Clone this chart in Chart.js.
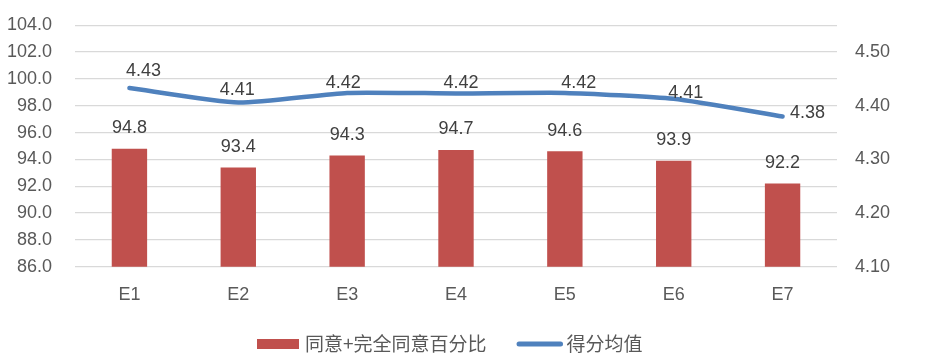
<!DOCTYPE html>
<html>
<head>
<meta charset="utf-8">
<script src="https://cdn.jsdelivr.net/npm/chart.js@4.4.1/dist/chart.umd.min.js"></script>
<style>
html,body{margin:0;padding:0;background:#fff;}
#wrap{width:942px;height:357px;}
</style>
</head>
<body>
<div id="wrap"><canvas id="c" width="942" height="357"></canvas></div>
<script>
const categories = ['E1', 'E2', 'E3', 'E4', 'E5', 'E6', 'E7'];
const pctValues = [94.8, 93.4, 94.3, 94.7, 94.6, 93.9, 92.2];
const meanValues = [4.433, 4.406, 4.424, 4.423, 4.424, 4.413, 4.380];
const seriesNames = ['同意+完全同意百分比', '得分均值'];
const leftTickValues = [86, 88, 90, 92, 94, 96, 98, 100, 102, 104];
const rightTickValues = [4.1, 4.2, 4.3, 4.4, 4.5];

const NUM_FONT = '"Liberation Sans", Arial, sans-serif';
const CJK_FONT = '"Noto Sans CJK SC", "Noto Sans", sans-serif';
const BAR_COLOR = '#c0504d';
const LINE_COLOR = '#4f81bd';

// label offsets for the line labels (dx, dy of text center relative to point)
const lineLabelOffsets = [[14,-17],[-1,-13],[-4,-10],[5,-10],[14,-10],[12,-6],[25,-3]];

const labelPlugin = {
  id: 'valueLabels',
  afterDatasetsDraw(chart) {
    const ctx = chart.ctx;
    ctx.save();
    ctx.font = '18px ' + NUM_FONT;
    ctx.fillStyle = '#404040';
    ctx.textAlign = 'center';
    ctx.textBaseline = 'middle';
    const barMeta = chart.getDatasetMeta(0);
    barMeta.data.forEach((el, i) => {
      ctx.fillText(chart.data.datasets[0].data[i].toFixed(1), el.x, el.y - 20.5);
    });
    const lineMeta = chart.getDatasetMeta(1);
    lineMeta.data.forEach((el, i) => {
      const o = lineLabelOffsets[i];
      ctx.fillText(chart.data.datasets[1].data[i].toFixed(2), el.x + o[0], el.y + o[1]);
    });
    ctx.restore();
  }
};

const legendPlugin = {
  id: 'customLegend',
  afterDraw(chart) {
    const ctx = chart.ctx;
    ctx.save();
    ctx.font = '19px ' + CJK_FONT;
    ctx.textBaseline = 'middle';
    const y = 344;
    let x = 257;
    const ds = chart.data.datasets;
    ctx.fillStyle = ds[0].backgroundColor;
    ctx.fillRect(x, y - 5, 42, 10);
    x += 48;
    ctx.fillStyle = '#595959';
    ctx.fillText(ds[0].label, x, y);
    x += ctx.measureText(ds[0].label).width + 30;
    ctx.strokeStyle = ds[1].borderColor;
    ctx.lineWidth = 5;
    ctx.lineCap = 'round';
    ctx.beginPath();
    ctx.moveTo(x + 2.5, y);
    ctx.lineTo(x + 44, y);
    ctx.stroke();
    x += 50;
    ctx.fillText(ds[1].label, x, y);
    ctx.restore();
  }
};

function fitY(width) {
  return function(scale) {
    scale.width = width;
    scale.paddingTop = 0;
    scale.paddingBottom = 0;
  };
}

new Chart(document.getElementById('c'), {
  data: {
    labels: categories,
    datasets: [
      {
        type: 'bar',
        label: seriesNames[0],
        data: pctValues,
        backgroundColor: BAR_COLOR,
        yAxisID: 'y',
        categoryPercentage: 1,
        barPercentage: 0.325,
        order: 2
      },
      {
        type: 'line',
        label: seriesNames[1],
        data: meanValues,
        borderColor: LINE_COLOR,
        backgroundColor: LINE_COLOR,
        borderWidth: 4.5,
        borderCapStyle: 'round',
        pointRadius: 0,
        tension: 0.18,
        yAxisID: 'y1',
        order: 1
      }
    ]
  },
  options: {
    responsive: false,
    animation: false,
    layout: { padding: { top: 25.3, left: 0, right: 0, bottom: 0 } },
    plugins: {
      legend: { display: false },
      tooltip: { enabled: false }
    },
    scales: {
      x: {
        grid: { display: false, drawTicks: false },
        border: { display: false },
        ticks: { font: { size: 18, family: NUM_FONT }, color: '#595959', padding: 18 },
        afterFit(scale) { scale.height = 90.3; scale.paddingLeft = 0; scale.paddingRight = 0; }
      },
      y: {
        position: 'left',
        min: 86,
        max: 104,
        afterBuildTicks(scale) { scale.ticks = leftTickValues.map(v => ({ value: v })); },
        ticks: {
          font: { size: 18, family: NUM_FONT },
          color: '#595959',
          padding: 23,
          callback: v => Number(v).toFixed(1)
        },
        grid: { color: '#d9d9d9', lineWidth: 1.3, drawTicks: false },
        border: { display: false },
        afterFit: fitY(75)
      },
      y1: {
        position: 'right',
        min: 4.1,
        max: 4.55,
        afterBuildTicks(scale) { scale.ticks = rightTickValues.map(v => ({ value: v })); },
        ticks: {
          font: { size: 18, family: NUM_FONT },
          color: '#595959',
          padding: 18,
          callback: v => Number(v).toFixed(2)
        },
        grid: { display: false, drawTicks: false },
        border: { display: false },
        afterFit: fitY(105)
      }
    }
  },
  plugins: [labelPlugin, legendPlugin]
});
</script>
</body>
</html>
